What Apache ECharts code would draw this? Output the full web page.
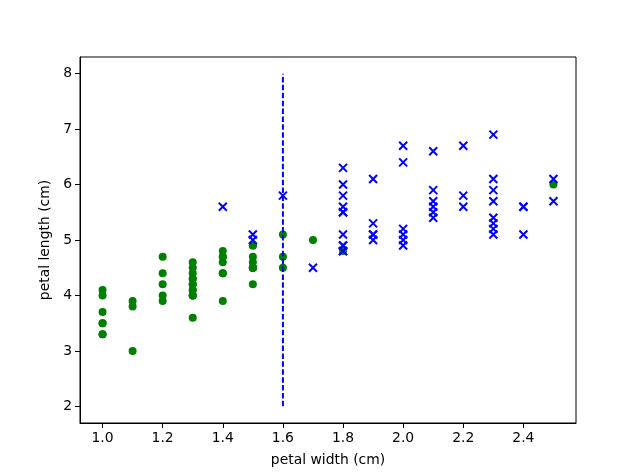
<!DOCTYPE html>
<html><head><meta charset="utf-8">
<script src="https://cdn.jsdelivr.net/npm/echarts@6/dist/echarts.min.js"></script>
<style>html,body{margin:0;padding:0;background:#fff}#c{width:640px;height:476px}</style>
</head><body><div id="c"></div>
<script>
// Green group (petal width, petal length)
const greenWidth = [1.4,1.5,1.5,1.3,1.5,1.3,1.6,1.0,1.3,1.4,1.0,1.5,1.0,1.4,1.3,1.4,1.5,1.0,1.5,1.1,1.8,1.3,1.5,1.2,1.3,1.4,1.4,1.7,1.5,1.0,1.1,1.0,1.2,1.6,1.5,1.6,1.5,1.3,1.3,1.3,1.2,1.4,1.2,1.0,1.3,1.2,1.3,1.3,1.1,1.3,2.5];
const greenLength = [4.7,4.5,4.9,4.0,4.6,4.5,4.7,3.3,4.6,3.9,3.5,4.2,4.0,4.7,3.6,4.4,4.5,4.1,4.5,3.9,4.8,4.0,4.9,4.7,4.3,4.4,4.8,5.0,4.5,3.5,3.8,3.7,3.9,5.1,4.5,4.5,4.7,4.4,4.1,4.0,4.4,4.6,4.0,3.3,4.2,4.2,4.2,4.3,3.0,4.1,6.0];
// Blue group
const blueWidth = [1.9,2.1,1.8,2.2,2.1,1.7,1.8,1.8,2.5,2.0,1.9,2.1,2.0,2.4,2.3,1.8,2.2,2.3,1.5,2.3,2.0,2.0,1.8,2.1,1.8,1.8,1.8,2.1,1.6,1.9,2.0,2.2,1.5,1.4,2.3,2.4,1.8,1.8,2.1,2.4,2.3,1.9,2.3,2.5,2.3,1.9,2.0,2.3,1.8];
const blueLength = [5.1,5.9,5.6,5.8,6.6,4.5,6.3,5.8,6.1,5.1,5.3,5.5,5.0,5.1,5.3,5.5,6.7,6.9,5.0,5.7,4.9,6.7,4.9,5.7,6.0,4.8,4.9,5.6,5.8,6.1,6.4,5.6,5.1,5.6,6.1,5.6,5.5,4.8,5.4,5.6,5.1,5.1,5.9,5.7,5.2,5.0,5.2,5.4,5.1];
// Threshold line
const lineX = [1.6, 1.6];
const lineY = [2, 8];
const xTicks = [1.0,1.2,1.4,1.6,1.8,2.0,2.2,2.4];
const yTicks = [2,3,4,5,6,7,8];

const zip = (a,b) => a.map((v,i)=>[v,b[i]]);
const font = 'DejaVu Sans';
const chart = echarts.init(document.getElementById('c'), null, {renderer:'canvas'});
chart.setOption({
  animation:false,
  backgroundColor:'#fff',
  grid:{left:80,right:64,top:57,bottom:53,show:true,borderColor:'#000',borderWidth:1,backgroundColor:'transparent'},
  xAxis:{type:'value',min:0.925,max:2.575,
    name:'petal width (cm)',nameLocation:'middle',nameGap:30,
    nameTextStyle:{fontFamily:font,fontSize:13.9,color:'#000'},
    axisLine:{show:true,onZero:false,lineStyle:{color:'#000',width:1}},
    axisTick:{show:true,length:5,lineStyle:{color:'#000',width:1},customValues:xTicks},
    axisLabel:{fontFamily:font,fontSize:13.9,color:'#000',margin:8,customValues:xTicks,formatter:v=>v.toFixed(1)},
    splitLine:{show:false}},
  yAxis:{type:'value',min:1.7,max:8.3,
    name:'petal length (cm)',nameLocation:'middle',nameGap:25,nameRotate:90,
    nameTextStyle:{fontFamily:font,fontSize:13.9,color:'#000'},
    axisLine:{show:true,onZero:false,lineStyle:{color:'#000',width:1}},
    axisTick:{show:true,length:5,lineStyle:{color:'#000',width:1},customValues:yTicks},
    axisLabel:{fontFamily:font,fontSize:13.9,color:'#000',margin:8,customValues:yTicks,formatter:v=>String(v)},
    splitLine:{show:false}},
  series:[
    {type:'scatter',data:zip(greenWidth,greenLength),symbol:'circle',symbolSize:8,
     itemStyle:{color:'#008000',opacity:1},z:2},
    {type:'scatter',data:zip(blueWidth,blueLength),symbol:'path://M0,0L10,10M10,0L0,10',symbolSize:8,
     itemStyle:{color:'none',borderColor:'#0000ff',borderWidth:2,opacity:1},z:3},
    {type:'line',data:zip(lineX,lineY),symbol:'none',
     lineStyle:{color:'#0000ff',width:2,type:[5.5,2.4]},z:4}
  ]
});
</script></body></html>
